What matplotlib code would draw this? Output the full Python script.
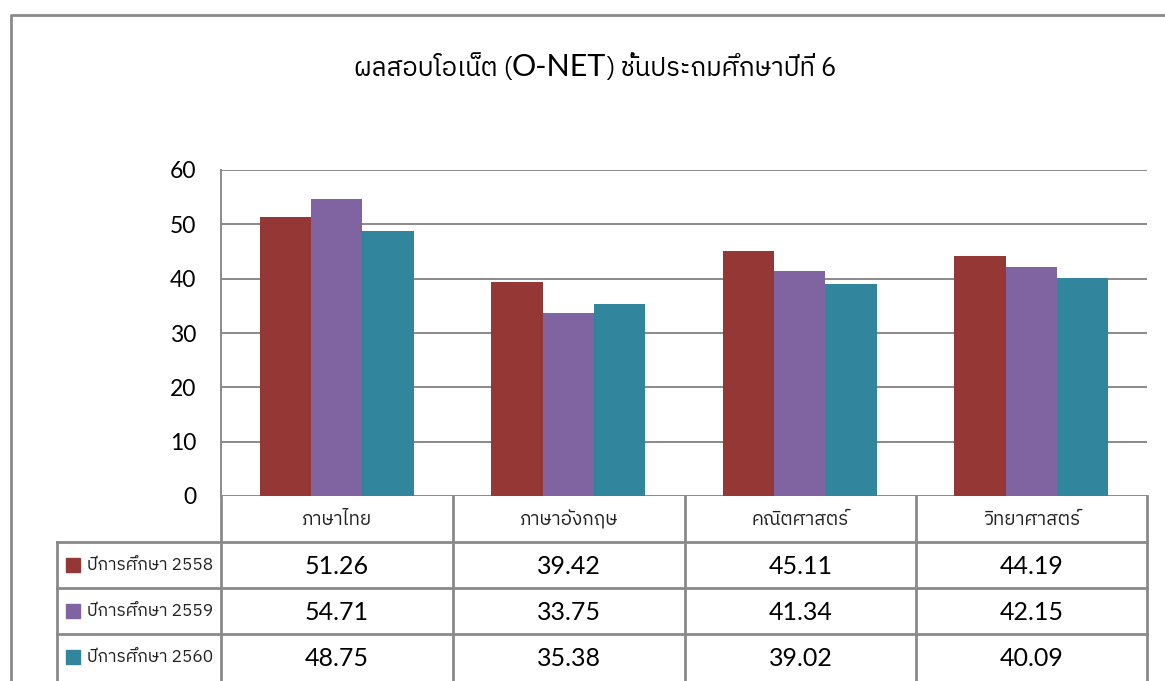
import matplotlib
matplotlib.use('Agg')
import matplotlib.pyplot as plt
import numpy as np
from matplotlib import font_manager as fm
from matplotlib.ft2font import FT2Font
from matplotlib.patches import Rectangle

categories = ['ภาษาไทย', 'ภาษาอังกฤษ', 'คณิตศาสตร์', 'วิทยาศาสตร์']
series_names = ['ปีการศึกษา 2558', 'ปีการศึกษา 2559', 'ปีการศึกษา 2560']
y2558 = [51.26, 39.42, 45.11, 44.19]
y2559 = [54.71, 33.75, 41.34, 42.15]
y2560 = [48.75, 35.38, 39.02, 40.09]
yticks = [0, 10, 20, 30, 40, 50, 60]
colors = ['#953735', '#8064A2', '#31859C']
title_parts = ['ผลสอบโอเน็ต (', 'O-NET', ') ชั้นประถมศึกษาปีที่ 6']


def find_thai_font():
    found = []
    for fe in fm.fontManager.ttflist:
        try:
            cmap = FT2Font(fe.fname).get_charmap()
        except Exception:
            continue
        if 0x0E01 in cmap and 0x0E1C in cmap:
            found.append(fe.name)
    found.sort(key=lambda n: (0 if 'Thai' in n else 1, n))
    return found[0] if found else 'DejaVu Sans'


thai = find_thai_font()
latin = 'Lato'
W, H = 1165, 681
fig = plt.figure(figsize=(W / 100, H / 100), dpi=100)

# pixel overlay for frame, title and data table
ov = fig.add_axes([0, 0, 1, 1])
ov.set_xlim(0, W)
ov.set_ylim(H, 0)
ov.axis('off')
grey = '#8a8a8a'
ov.plot([11, 11, 1164], [H, 15, 15], color=grey, lw=2)

# bars
left, right, top, bottom = 221, 1147, 170, 496
ax = fig.add_axes([left / W, 1 - bottom / H, (right - left) / W, (bottom - top) / H])
series = [y2558, y2559, y2560]
x = np.arange(len(categories))
bw = 0.222
for i, vals in enumerate(series):
    ax.bar(x + (i - 1) * bw, vals, bw, color=colors[i], zorder=3)
ax.set_xlim(-0.5, len(categories) - 0.5)
ax.set_ylim(0, 60)
ax.set_yticks(yticks)
ax.set_yticklabels([str(t) for t in yticks], fontsize=16.5, family=latin)
ax.set_xticks([])
ax.tick_params(axis='y', length=0, pad=18)
ax.grid(axis='y', color=grey, lw=1.4, zorder=0)
for s in ['top', 'right', 'bottom']:
    ax.spines[s].set_visible(False)
ax.spines['left'].set_color(grey)
ax.spines['left'].set_linewidth(1.4)
ax.patch.set_alpha(0)

# table
col_edges = [221, 453, 685, 916, 1147]
row_edges = [496, 542, 588, 634, 680]
for cx in col_edges:
    ov.plot([cx, cx], [496, H], color=grey, lw=2)
ov.plot([57, 57], [542, H], color=grey, lw=2)
for ry in row_edges[1:4]:
    ov.plot([57, 1147], [ry, ry], color=grey, lw=2)
for j, cat in enumerate(categories):
    cx = (col_edges[j] + col_edges[j + 1]) / 2
    ov.text(cx, 520, cat, ha='center', va='center', fontsize=13.5, family=thai, color='#222222')
for i, vals in enumerate(series):
    cy = (row_edges[i + 1] + row_edges[i + 2]) / 2
    ov.add_patch(Rectangle((66, cy - 7), 14, 14, color=colors[i]))
    ov.text(87, cy, series_names[i], ha='left', va='center', fontsize=12.5, family=thai, color='#222222')
    for j, v in enumerate(vals):
        cx = (col_edges[j] + col_edges[j + 1]) / 2
        ov.text(cx, cy + 1, f'{v:.2f}', ha='center', va='center', fontsize=18, family=latin)

# title with mixed fonts
fig.canvas.draw()
r = fig.canvas.get_renderer()
pieces = []
for k, part in enumerate(title_parts):
    if k == 1:
        t = ov.text(0, 76, part, fontsize=22, family=latin, va='baseline')
    else:
        t = ov.text(0, 76, part, fontsize=18.5, family=thai, va='baseline')
    pieces.append(t)
widths = [p.get_window_extent(r).width for p in pieces]
xpos = 595 - sum(widths) / 2
for p, w in zip(pieces, widths):
    p.set_x(xpos)
    xpos += w

fig.savefig('out.png', dpi=100)
